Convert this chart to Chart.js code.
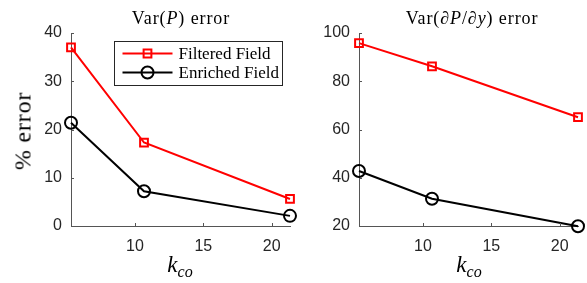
<!DOCTYPE html>
<html><head><meta charset="utf-8">
<script src="https://cdn.jsdelivr.net/npm/chart.js@4"></script>
<style>
html,body{margin:0;padding:0;background:#fff;}
#wrap{position:relative;width:587px;height:283px;overflow:hidden;}
canvas{position:absolute;top:0;}
.lbl{position:absolute;font-family:"Liberation Serif","Times New Roman",serif;color:#000;white-space:nowrap;transform:translate(-50%,-50%);}
.ttl{font-size:18px;letter-spacing:0.9px;}
.xl{font-size:23px;}
.xl sub{font-size:16px;vertical-align:-5px;}
.yl{font-size:24px;letter-spacing:0.8px;transform:translate(-50%,-50%) rotate(-90deg);}
</style></head>
<body><div id="wrap">
<canvas id="c1" width="300" height="283" style="left:0"></canvas>
<canvas id="c2" width="297" height="283" style="left:290px"></canvas>
<div class="lbl ttl" style="left:181px;top:18px">Var(<i>P</i>) error</div>
<div class="lbl ttl" style="left:472px;top:18px">Var(∂<i>P</i>/∂<i>y</i>) error</div>
<div class="lbl xl" style="left:180px;top:266px"><i>k</i><sub><i>co</i></sub></div>
<div class="lbl xl" style="left:469px;top:266px"><i>k</i><sub><i>co</i></sub></div>
<div class="lbl yl" style="left:23px;top:131px">% error</div>
</div>
<script>
const kco = [16/3, 32/3, 64/3];
const xTicks = [10, 15, 20];
const seriesNames = ['Filtered Field', 'Enriched Field'];
const varP_filtered = [37.0, 17.3, 5.6];
const varP_enriched = [21.4, 7.2, 2.1];
const varDP_filtered = [95.8, 86.2, 65.1];
const varDP_enriched = [42.8, 31.3, 19.9];
const yTicksLeft = [0, 10, 20, 30, 40];
const yTicksRight = [20, 40, 60, 80, 100];

const tickFont = {family:'"Liberation Sans", Arial, sans-serif', size:16};
const tickColor = '#262626';

function ds(label, xs, ys, color, style){
  return {label, data: xs.map((x,i)=>({x, y: ys[i]})), borderColor: color, backgroundColor: 'rgba(0,0,0,0)',
    borderWidth: 2, pointStyle: style, pointRadius: style==='rect'?5.5:6, pointBorderWidth: 2,
    pointBackgroundColor:'rgba(0,0,0,0)', pointHoverRadius: 6, clip: false, tension: 0};
}

const innerTicks = {
  id:'innerTicks',
  afterDraw(chart){
    const ctx = chart.ctx, ca = chart.chartArea;
    ctx.save(); ctx.strokeStyle = '#555'; ctx.lineWidth = 1;
    const xs = chart.scales.x, ys = chart.scales.y;
    xs.ticks.forEach(t=>{ const px = Math.round(xs.getPixelForValue(t.value))+0.5;
      ctx.beginPath(); ctx.moveTo(px, ca.bottom); ctx.lineTo(px, ca.bottom-3); ctx.stroke(); });
    ys.ticks.forEach(t=>{ const py = Math.round(ys.getPixelForValue(t.value))+0.5;
      ctx.beginPath(); ctx.moveTo(ca.left, py); ctx.lineTo(ca.left+3, py); ctx.stroke(); });
    ctx.restore();
  }
};

const boxLegend = {
  id:'boxLegend',
  afterDraw(chart, args, opts){
    if(!opts.show) return;
    const ctx = chart.ctx, ca = chart.chartArea;
    const w = 168, h = 44;
    const bx = Math.round(ca.right - 8 - w)+0.5, by = Math.round(ca.top + 8)+0.5;
    ctx.save();
    ctx.fillStyle = '#fff'; ctx.fillRect(bx, by, w, h);
    ctx.strokeStyle = '#262626'; ctx.lineWidth = 1; ctx.strokeRect(bx, by, w, h);
    chart.data.datasets.forEach((d, i)=>{
      const yy = by + 12 + i*19;
      ctx.strokeStyle = d.borderColor; ctx.lineWidth = 2;
      ctx.beginPath(); ctx.moveTo(bx+8, yy); ctx.lineTo(bx+58, yy); ctx.stroke();
      ctx.fillStyle = 'rgba(0,0,0,0)';
      Chart.helpers.drawPoint(ctx, {pointStyle: d.pointStyle, radius: d.pointRadius, borderWidth: 2}, bx+33, yy);
      ctx.fillStyle = '#000'; ctx.font = '17px "Liberation Serif", serif';
      ctx.textBaseline = 'middle'; ctx.textAlign = 'left';
      ctx.fillText(d.label, bx+64, yy+1);
    });
    ctx.restore();
  }
};

function makeChart(id, f, e, yTicks, yMin, yMax, yWidth, padRight, legend){
  return new Chart(document.getElementById(id), {
    type:'line',
    data:{datasets:[ds(seriesNames[0], kco, f, '#ff0000', 'rect'), ds(seriesNames[1], kco, e, '#000000', 'circle')]},
    options:{
      responsive:false, animation:false, devicePixelRatio:1,
      layout:{padding:{left:0, right:padRight, top:33, bottom:0}},
      plugins:{legend:{display:false}, tooltip:{enabled:false}, boxLegend:{show:legend}},
      scales:{
        x:{type:'linear', min:kco[0], max:kco[kco.length-1],
          afterBuildTicks(s){ s.ticks = xTicks.map(v=>({value:v})); },
          afterFit(s){ s.height = 57; },
          grid:{display:false, drawTicks:false}, border:{display:true, color:'#555', width:1},
          ticks:{font:tickFont, color:tickColor, padding:11, maxRotation:0}},
        y:{type:'linear', min:yMin, max:yMax,
          afterBuildTicks(s){ s.ticks = yTicks.map(v=>({value:v})); },
          afterFit(s){ s.width = yWidth; },
          grid:{display:false, drawTicks:false}, border:{display:true, color:'#555', width:1},
          ticks:{font:tickFont, color:tickColor, padding:9}}
      }
    },
    plugins:[innerTicks, boxLegend]
  });
}
makeChart('c1', varP_filtered, varP_enriched, yTicksLeft, 0, 40, 71, 10, true);
makeChart('c2', varDP_filtered, varDP_enriched, yTicksRight, 20, 100, 69, 9, false);
</script></body></html>
